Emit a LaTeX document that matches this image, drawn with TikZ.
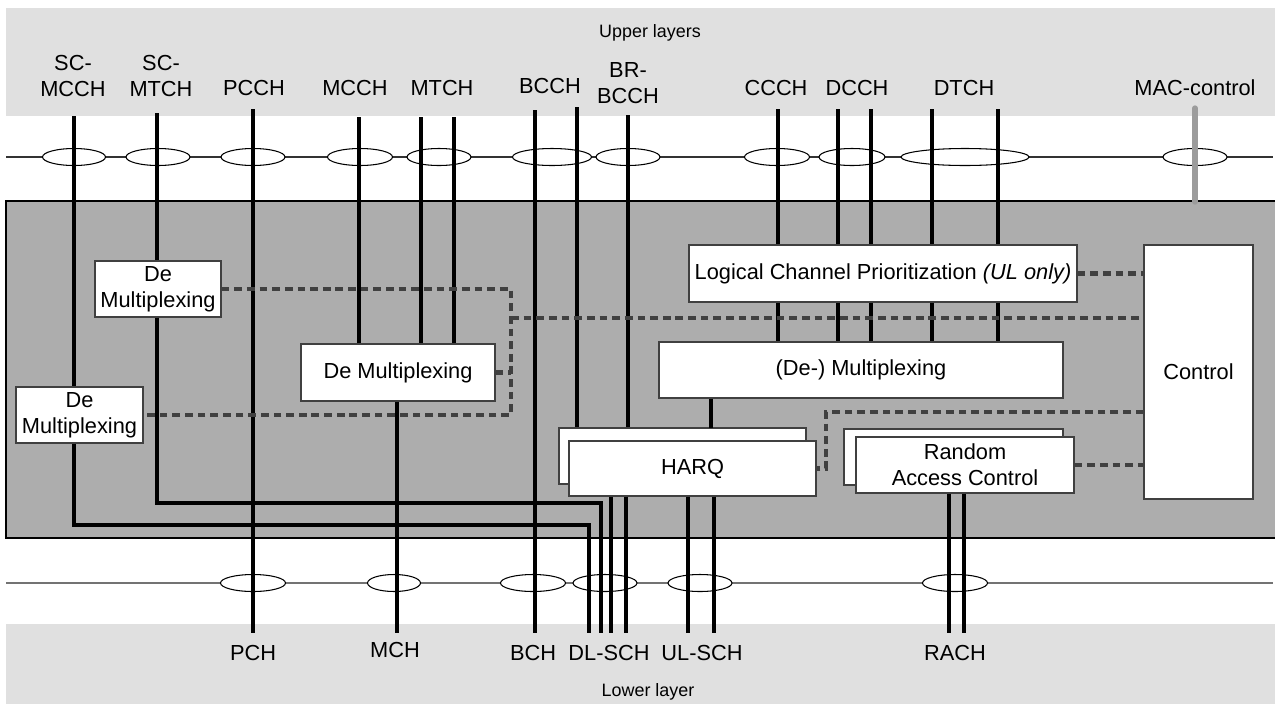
\documentclass[tikz,border=0pt]{standalone}
\usepackage{fontspec}
\setmainfont{Liberation Sans}
\usetikzlibrary{shapes.geometric}

\definecolor{bandgray}{HTML}{E0E0E0}
\definecolor{macgray}{HTML}{ADADAD}
\definecolor{dashgray}{HTML}{404040}
\definecolor{ctlgray}{HTML}{9C9C9C}

\tikzset{
  chan/.style={line width=2.2pt},
  sap/.style={ellipse, draw, fill=white, line width=0.6pt, inner sep=0pt, minimum height=0.34cm},
  fbox/.style={draw=dashgray, fill=white, line width=0.7pt, inner sep=0pt},
  ctl/.style={dashgray, line width=2.3pt, dash pattern=on 4.4pt off 2.8pt},
  small/.style={font=\fontsize{10.2}{12}\selectfont},
}

\begin{document}
\begin{tikzpicture}[x=0.02cm, y=-0.02cm, align=center, inner sep=0pt, font=\fontsize{12.4}{15}\selectfont]
    \useasboundingbox (0,0) rectangle (1275,704);
    \fill[bandgray] (6,8) rectangle (1275,116);
    \fill[bandgray] (6,624) rectangle (1275,704);
    \draw[fill=macgray, line width=0.6pt] (1280,201) -- (6,201) -- (6,538) -- (1280,538);
    \draw[black!80, line width=0.7pt] (6,157) -- (1273,157);
    \draw[black!55, line width=0.7pt] (6,583) -- (1273,583);

    \node[small] (upper) at (650,33) {Upper layers};
    \node[small] (lower) at (648,692) {Lower layer};

    \node (scmcch) at (73,76) {SC-\\MCCH};
    \node (scmtch) at (161,76) {SC-\\MTCH};
    \node (pcch) at (254,88) {PCCH};
    \node (mcch) at (355,88) {MCCH};
    \node (mtch) at (442,88) {MTCH};
    \node (bcch) at (550,86) {BCCH};
    \node (brbcch) at (628,83) {BR-\\BCCH};
    \node (ccch) at (776,88) {CCCH};
    \node (dcch) at (857,88) {DCCH};
    \node (dtch) at (964,88) {DTCH};
    \node (macctl) at (1195,88) {MAC-control};

    \node (pch) at (253,653) {PCH};
    \node (mch) at (395,650) {MCH};
    \node (bch) at (533,653) {BCH};
    \node (dlsch) at (609,653) {DL-SCH};
    \node (ulsch) at (702,653) {UL-SCH};
    \node (rach) at (955,653) {RACH};

    \foreach \n/\x/\w in {a/74/1.26, b/158/1.28, c/253/1.28, d/360/1.3, e/439/1.28, f/552/1.58,
                          g/628/1.28, h/777/1.3, i/852/1.32, j/965/2.56, k/1195/1.28}
    \node[sap, minimum width=\w cm] (up\n) at (\x,157) {};
    \foreach \n/\x/\w in {a/253/1.3, b/394/1.06, c/533/1.3, d/605/1.28, e/700/1.28, f/955/1.3}
    \node[sap, minimum width=\w cm] (lo\n) at (\x,583) {};

    \node[fbox, minimum width=2.52cm, minimum height=1.12cm] (dmA) at (158,289) {De\\Multiplexing};
    \node[fbox, minimum width=2.54cm, minimum height=1.12cm] (dmB) at (79.5,415) {De\\Multiplexing};
    \node[fbox, minimum width=3.88cm, minimum height=1.14cm] (dmC) at (398,372.5) {De Multiplexing};
    \node[fbox, minimum width=7.76cm, minimum height=1.14cm] (lcp) at (883,273.5)
        {Logical Channel Prioritization \textit{(UL only)}};
    \node[fbox, minimum width=8.08cm, minimum height=1.12cm] (mux) at (861,370) {(De-) Multiplexing};
    \node[fbox, minimum width=2.18cm, minimum height=5.08cm] (ctrl) at (1198.5,372) {Control};
    \node[fbox, minimum width=4.94cm, minimum height=1.12cm] (harqB) at (682.5,456) {};
    \node[fbox, minimum width=4.94cm, minimum height=1.1cm] (harq) at (692.5,468.5) {HARQ};
    \node[fbox, minimum width=4.38cm, minimum height=1.12cm] (racB) at (953.5,457) {};
    \node[fbox, minimum width=4.36cm, minimum height=1.12cm] (rac) at (965,465) {Random\\Access Control};

    \foreach \n/\x/\y in {scmcch/74/116, scmtch/157/113, pcch/253/109, mcch/359/117, mtchA/421/117,
                          mtchB/454/117, bcchA/535/110, bcchB/577/107, brbcch/628/115, ccch/778/109,
                          dcchA/838/109, dcchB/871/109, dtchA/932/109, dtchB/998/109, mac/1195/108}
    \coordinate (\n-t) at (\x,\y);
    \foreach \n/\x in {pch/253, mch/397, bch/535, dlA/589, dlB/601, dlC/611, dlD/626,
                       ulA/688, ulB/714, raA/949, raB/964}
    \coordinate (\n-b) at (\x,633);
    \coordinate (bendA) at (589,525);
    \coordinate (bendB) at (601,503);
    \coordinate (hq) at (711,428);
    \coordinate (mac-b) at (1195,202);

    \draw[chan] (scmcch-t) -- (dmB.north -| scmcch-t);
    \draw[chan] (dmB.south -| scmcch-t) |- (bendA) -- (dlA-b);
    \draw[chan] (scmtch-t) -- (dmA.north -| scmtch-t);
    \draw[chan] (dmA.south -| scmtch-t) |- (bendB) -- (dlB-b);
    \draw[chan] (pcch-t) -- (pch-b);
    \foreach \n in {mcch,mtchA,mtchB}
    \draw[chan] (\n-t) -- (dmC.north -| \n-t);
    \draw[chan] (dmC.south -| mch-b) -- (mch-b);
    \draw[chan] (bcchA-t) -- (bch-b);
    \draw[chan] (bcchB-t) -- (harqB.north -| bcchB-t);
    \draw[chan] (brbcch-t) -- (harqB.north -| brbcch-t);
    \foreach \n in {ccch,dcchA,dcchB,dtchA,dtchB} {
        \draw[chan] (\n-t) -- (lcp.north -| \n-t);
        \draw[chan] (lcp.south -| \n-t) -- (mux.north -| \n-t);
    }
    \draw[chan] (mux.south -| hq) -- (hq);
    \foreach \n in {dlC,dlD,ulA,ulB}
    \draw[chan] (harq.south -| \n-b) -- (\n-b);
    \foreach \n in {raA,raB}
    \draw[chan] (rac.south -| \n-b) -- (\n-b);
    \draw[ctlgray, line width=3pt, line cap=round] (mac-t) -- (mac-b);

    \coordinate (swA) at (511,318);
    \coordinate (swB) at (826,412);
    \draw[ctl] (dmA.east) -| (swA) |- (dmB.east);
    \draw[ctl] (dmC.east) -- (dmC.east -| swA);
    \draw[ctl] (swA) -- (swA -| ctrl.west);
    \draw[ctl] (lcp.east) -- (lcp.east -| ctrl.west);
    \draw[ctl] (swB -| ctrl.west) -- (swB) |- (harq.east);
    \draw[ctl] (rac.east) -- (rac.east -| ctrl.west);
\end{tikzpicture}
\end{document}
